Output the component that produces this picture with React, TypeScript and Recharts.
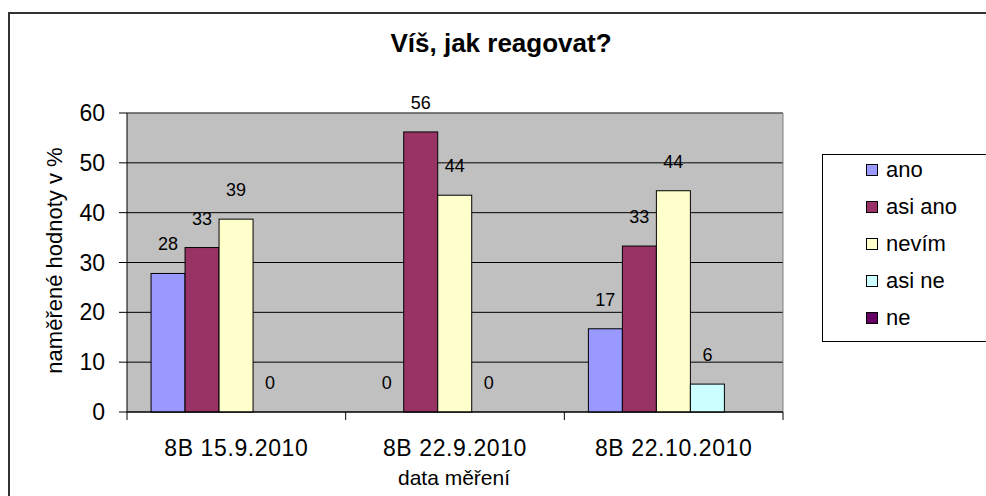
import React from 'react';
import { BarChart, Bar, XAxis, YAxis, CartesianGrid, Legend, Label } from 'recharts';

const categories = ['8B 15.9.2010', '8B 22.9.2010', '8B 22.10.2010'];
const ano = [27.8, 0, 16.7];
const asiAno = [33.0, 56.2, 33.3];
const nevim = [38.7, 43.5, 44.4];
const asiNe = [0, 0, 5.6];
const ne: (number | null)[] = [null, null, null];
const yTicks = [0, 10, 20, 30, 40, 50, 60];

const series = [
  { key: 'ano', name: 'ano', color: '#9999FF', values: ano },
  { key: 'asiAno', name: 'asi ano', color: '#993366', values: asiAno },
  { key: 'nevim', name: 'nevím', color: '#FFFFCC', values: nevim },
  { key: 'asiNe', name: 'asi ne', color: '#CCFFFF', values: asiNe },
  { key: 'ne', name: 'ne', color: '#660066', values: ne },
];

const data = categories.map((cat, i) => {
  const row: Record<string, string | number | null> = { cat };
  series.forEach((s) => {
    row[s.key] = s.values[i];
  });
  return row;
});

const FONT = '"Liberation Sans", Arial, sans-serif';
const W = 986;
const H = 496;
const MARGIN = { top: 113, right: 203, bottom: 0, left: 0 };
const Y_AXIS_W = 127;
const PLOT_W = W - MARGIN.left - MARGIN.right - Y_AXIS_W;
const BAND = PLOT_W / categories.length;

// category ticks in the middle, tick marks on the category borders (Excel style)
const XTick = (props: any) => {
  const { x, y, payload, index } = props;
  const half = BAND / 2;
  return (
    <g>
      <line x1={x - half} y1={y} x2={x - half} y2={y + 8} stroke="#000" />
      {index === categories.length - 1 && (
        <line x1={x + half} y1={y} x2={x + half} y2={y + 8} stroke="#000" />
      )}
      <text x={x} y={y + 44} textAnchor="middle" fontSize={23} letterSpacing={0.6} fill="#000" fontFamily={FONT}>
        {payload.value}
      </text>
    </g>
  );
};

// bar + its value label; zero bars still get their "0" like in Excel
const makeShape = (key: string, color: string) => (p: any) => {
  const v = p.payload ? p.payload[key] : null;
  if (v == null) return <g />;
  const h = Math.abs(p.height || 0);
  const top = Math.min(p.y, p.y + (p.height || 0));
  return (
    <g>
      {h > 0 && <rect x={p.x} y={top} width={p.width} height={h} fill={color} stroke="#000" strokeWidth={1} />}
      <text x={p.x + p.width / 2} y={top - 23} textAnchor="middle" fontSize={18} fill="#000" fontFamily={FONT}>
        {String(Math.round(Number(v)))}
      </text>
    </g>
  );
};

const renderLegend = (props: any) => {
  const got = props.payload || [];
  // keep the series order, not the alphabetical one
  const items = series.map((s) => got.find((it: any) => it.value === s.name) || { value: s.name, color: s.color });
  return (
    <div
      style={{
        width: 180,
        height: 188,
        border: '1px solid #000',
        boxSizing: 'border-box',
        background: '#fff',
        fontFamily: FONT,
        color: '#000',
      }}
    >
      <div style={{ position: 'relative', top: -3 }}>
        {items.map((it: any) => (
          <div key={it.value} style={{ display: 'flex', alignItems: 'center', height: 36.8, paddingLeft: 43 }}>
            <span
              style={{
                display: 'inline-block',
                width: 10,
                height: 10,
                border: '1px solid #000',
                background: it.color,
                marginRight: 8,
              }}
            />
            <span style={{ fontSize: 22, lineHeight: '22px' }}>{it.value}</span>
          </div>
        ))}
      </div>
    </div>
  );
};

export default function App() {
  return (
    <div style={{ position: 'absolute', left: 0, top: 0, width: W, height: H, overflow: 'hidden', background: '#fff' }}>
      <div
        style={{
          position: 'absolute',
          left: 8,
          top: 12,
          width: 1200,
          height: 800,
          border: '2px solid #333',
        }}
      />
      <div
        style={{
          position: 'absolute',
          left: 301,
          top: 30,
          width: 400,
          textAlign: 'center',
          fontFamily: FONT,
          fontWeight: 'bold',
          fontSize: 26,
          lineHeight: '26px',
          color: '#000',
        }}
      >
        Víš, jak reagovat?
      </div>
      <BarChart width={W} height={H} data={data} margin={MARGIN} barCategoryGap="11%" barGap={0}>
        <CartesianGrid vertical={false} stroke="#000" fill="#C0C0C0" />
        <CartesianGrid
          stroke="#808080"
          horizontalCoordinatesGenerator={({ offset }: any) => [offset.top]}
          verticalCoordinatesGenerator={({ offset }: any) => [offset.left + offset.width]}
        />
        <XAxis
          dataKey="cat"
          height={84}
          interval={0}
          tickLine={false}
          tickSize={0}
          tickMargin={0}
          axisLine={{ stroke: '#000' }}
          tick={<XTick />}
        >
          <Label
            content={(p: any) => {
              const vb = p.viewBox || { x: 127, y: 412, width: 656 };
              return (
                <text x={vb.x + vb.width / 2 - 1} y={vb.y + 73} textAnchor="middle" fontSize={21} fill="#000" fontFamily={FONT}>
                  data měření
                </text>
              );
            }}
          />
        </XAxis>
        <YAxis
          type="number"
          domain={[0, 60]}
          ticks={yTicks}
          interval={0}
          width={Y_AXIS_W}
          tickSize={8}
          tickMargin={14}
          axisLine={{ stroke: '#000' }}
          tickLine={{ stroke: '#000' }}
          tick={{ fontSize: 23, fill: '#000', fontFamily: FONT }}
        >
          <Label
            content={(p: any) => {
              const vb = p.viewBox || { x: 0, y: 113, height: 299 };
              const x = vb.x + 62;
              const y = vb.y + vb.height / 2 - 2;
              return (
                <text x={x} y={y} transform={`rotate(-90, ${x}, ${y})`} textAnchor="middle" fontSize={22} fill="#000" fontFamily={FONT}>
                  naměřené hodnoty v %
                </text>
              );
            }}
          />
        </YAxis>
        <Legend
          layout="vertical"
          align="center"
          verticalAlign="middle"
          wrapperStyle={{ left: 822, top: 154, width: 180 }}
          content={renderLegend}
        />
        {series.map((s) => (
          <Bar
            key={s.key}
            dataKey={s.key}
            name={s.name}
            fill={s.color}
            stroke="#000"
            strokeWidth={1}
            isAnimationActive={false}
            shape={makeShape(s.key, s.color)}
          />
        ))}
      </BarChart>
    </div>
  );
}
